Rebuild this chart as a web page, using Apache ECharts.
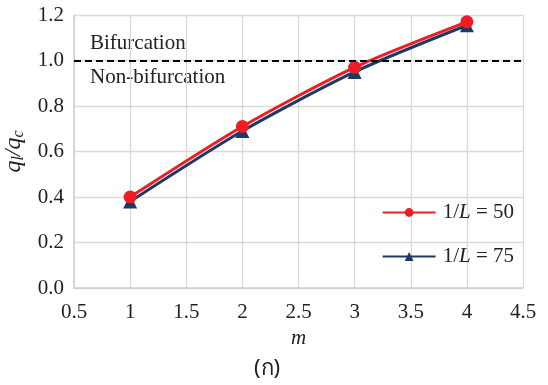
<!DOCTYPE html>
<html>
<head>
<meta charset="utf-8">
<script src="https://cdn.jsdelivr.net/npm/echarts@6/dist/echarts.min.js"></script>
<style>
html,body{margin:0;padding:0;background:#fff;}
#chart{width:548px;height:385px;}
</style>
</head>
<body>
<div id="chart"></div>
<script>
// m values and the ratio q_l/q_c for two slenderness values
var mValues = [1, 2, 3, 4];
var ratioL50 = [0.40, 0.71, 0.97, 1.17];
var ratioL75 = [0.38, 0.69, 0.95, 1.155];
var seriesNames = ['1/L = 50', '1/L = 75'];
var bifurcationLevel = 1.0;

var serif = '"Liberation Serif", "Times New Roman", serif';
var ink = '#222';

function pairs(xs, ys) {
  return xs.map(function (x, i) { return [x, ys[i]]; });
}

var chart = echarts.init(document.getElementById('chart'));
chart.setOption({
  animation: false,
  backgroundColor: '#fff',
  grid: { left: 74, right: 25, top: 15, bottom: 97, containLabel: false, outerBoundsMode: 'none' },
  xAxis: {
    type: 'value', min: 0.5, max: 4.5, interval: 0.5,
    name: 'm', nameLocation: 'middle', nameGap: 32,
    nameTextStyle: { fontFamily: serif, fontStyle: 'italic', fontSize: 21, color: ink },
    axisLine: { show: true, lineStyle: { color: '#d0d0d0', width: 1.5 } },
    axisTick: { show: false },
    axisLabel: { fontFamily: serif, fontSize: 21, color: ink, margin: 14 },
    splitLine: { show: true, lineStyle: { color: '#d9d9d9', width: 1.3 } }
  },
  yAxis: {
    type: 'value', min: 0, max: 1.2, interval: 0.2,
    name: '{q|q}{s|l}{q|/q}{s|c}', nameLocation: 'middle', nameGap: 41, nameRotate: 90,
    nameTextStyle: {
      rich: {
        q: { fontFamily: serif, fontStyle: 'italic', fontSize: 24, color: ink },
        s: { fontFamily: serif, fontStyle: 'italic', fontSize: 16, color: ink, verticalAlign: 'bottom', padding: [10, 0, 0, 0] }
      }
    },
    axisLine: { show: true, lineStyle: { color: '#d0d0d0', width: 1.5 } },
    axisTick: { show: false },
    axisLabel: { fontFamily: serif, fontSize: 21, color: ink, margin: 10,
      formatter: function (v) { return v.toFixed(1); } },
    splitLine: { show: true, lineStyle: { color: '#d9d9d9', width: 1.3 } }
  },
  legend: {
    orient: 'vertical', right: 34, top: 202, itemWidth: 53, itemHeight: 11, itemGap: 23,
    padding: 0,
    textStyle: { fontFamily: serif, fontSize: 21, color: ink, padding: [0, 0, 0, 2],
      rich: { i: { fontFamily: serif, fontStyle: 'italic', fontSize: 21, color: ink },
              n: { fontFamily: serif, fontSize: 21, color: ink } } },
    formatter: function (name) {
      var parts = name.split('L');
      return '{n|' + parts[0] + '}{i|L}{n|' + parts[1] + '}';
    },
    data: seriesNames
  },
  graphic: [
    { type: 'text', left: 90, top: 33, style: { text: 'Bifurcation', font: '21px ' + serif, fill: ink } },
    { type: 'text', left: 90, top: 67, style: { text: 'Non-bifurcation', font: '21px ' + serif, fill: ink } },
    { type: 'text', left: 254, top: 358, style: { text: '(ก)', font: '22px "Noto Sans", "DejaVu Sans", sans-serif', fill: ink } }
  ],
  series: [
    {
      name: seriesNames[1], type: 'line', smooth: 0.25,
      data: pairs(mValues, ratioL75),
      symbol: 'triangle', symbolSize: 14,
      itemStyle: { color: '#1f3864' },
      lineStyle: { color: '#1f3864', width: 3 },
      z: 3
    },
    {
      name: seriesNames[0], type: 'line', smooth: 0.25,
      data: pairs(mValues, ratioL50),
      symbol: 'circle', symbolSize: 13,
      itemStyle: { color: '#ee1c25' },
      lineStyle: { color: '#ee1c25', width: 3 },
      z: 4,
      markLine: {
        silent: true, symbol: 'none',
        label: { show: false },
        lineStyle: { color: '#000', type: [7, 4], width: 2 },
        data: [{ yAxis: bifurcationLevel }]
      }
    }
  ]
});
</script>
</body>
</html>
